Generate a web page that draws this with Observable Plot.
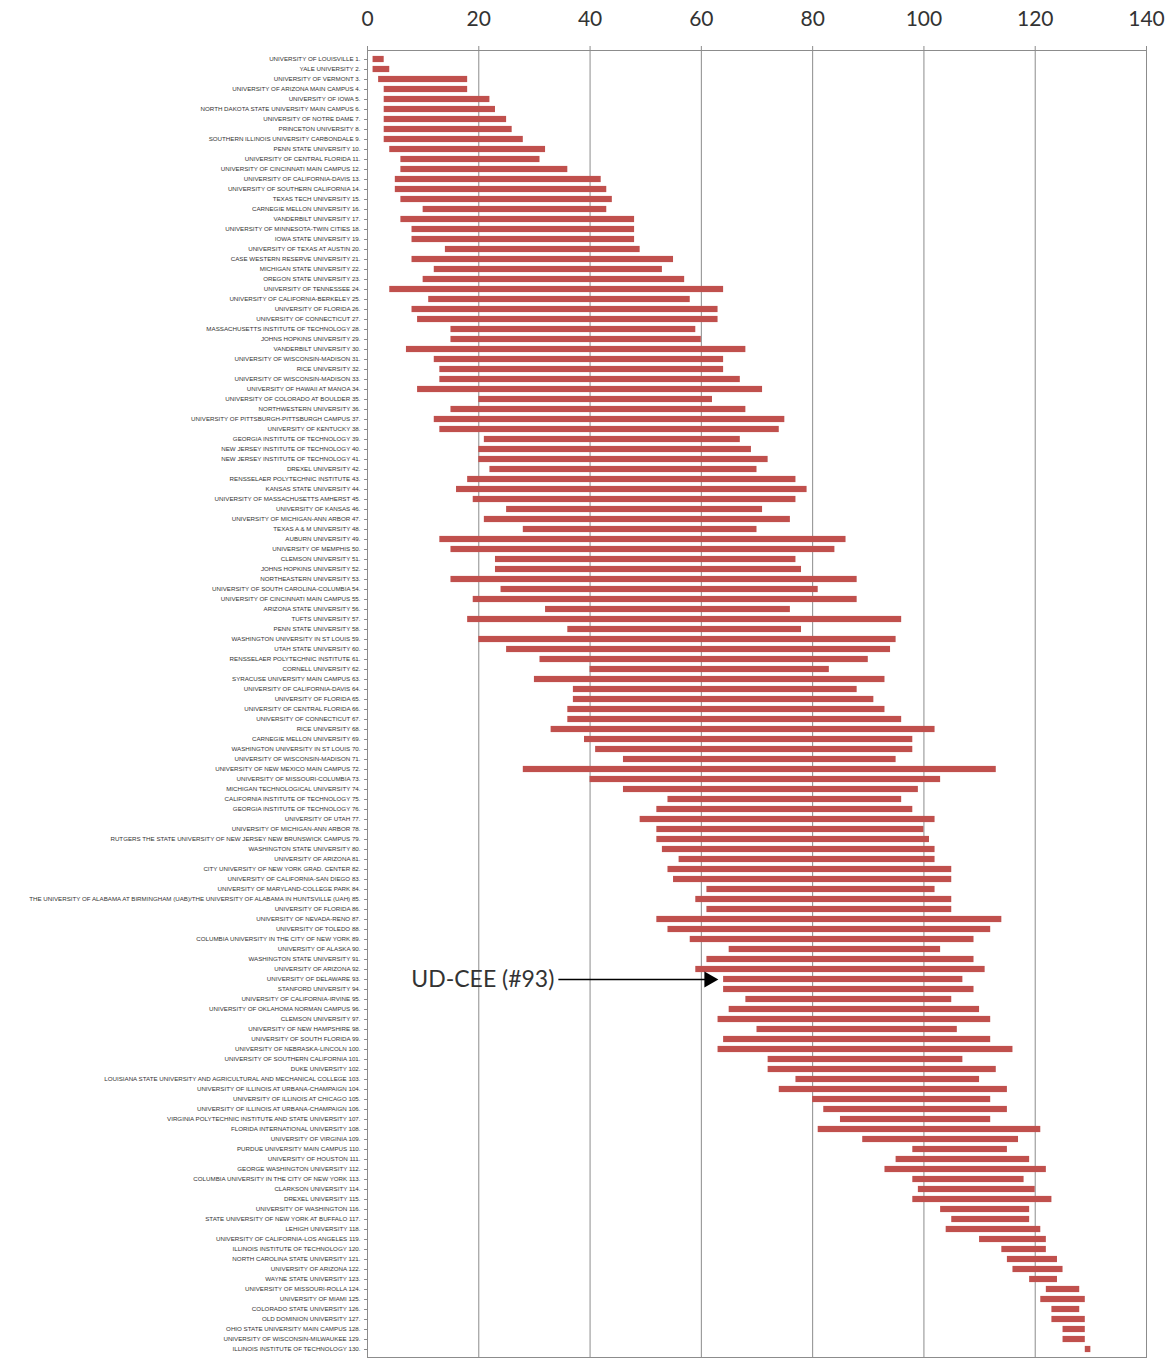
<!DOCTYPE html>
<html><head><meta charset="utf-8">
<script src="https://cdn.jsdelivr.net/npm/d3@7"></script>
<script src="https://cdn.jsdelivr.net/npm/@observablehq/plot@0.6"></script>
<style>body{margin:0;background:#fff}#chart svg{display:block}</style>
</head><body><div id="chart"></div>
<script>
const names = [
"UNIVERSITY OF LOUISVILLE 1.","YALE UNIVERSITY 2.","UNIVERSITY OF VERMONT 3.","UNIVERSITY OF ARIZONA MAIN CAMPUS 4.","UNIVERSITY OF IOWA 5.",
"NORTH DAKOTA STATE UNIVERSITY MAIN CAMPUS 6.","UNIVERSITY OF NOTRE DAME 7.","PRINCETON UNIVERSITY 8.","SOUTHERN ILLINOIS UNIVERSITY CARBONDALE 9.","PENN STATE UNIVERSITY 10.",
"UNIVERSITY OF CENTRAL FLORIDA 11.","UNIVERSITY OF CINCINNATI MAIN CAMPUS 12.","UNIVERSITY OF CALIFORNIA-DAVIS 13.","UNIVERSITY OF SOUTHERN CALIFORNIA 14.","TEXAS TECH UNIVERSITY 15.",
"CARNEGIE MELLON UNIVERSITY 16.","VANDERBILT UNIVERSITY 17.","UNIVERSITY OF MINNESOTA-TWIN CITIES 18.","IOWA STATE UNIVERSITY 19.","UNIVERSITY OF TEXAS AT AUSTIN 20.",
"CASE WESTERN RESERVE UNIVERSITY 21.","MICHIGAN STATE UNIVERSITY 22.","OREGON STATE UNIVERSITY 23.","UNIVERSITY OF TENNESSEE 24.","UNIVERSITY OF CALIFORNIA-BERKELEY 25.",
"UNIVERSITY OF FLORIDA 26.","UNIVERSITY OF CONNECTICUT 27.","MASSACHUSETTS INSTITUTE OF TECHNOLOGY 28.","JOHNS HOPKINS UNIVERSITY 29.","VANDERBILT UNIVERSITY 30.",
"UNIVERSITY OF WISCONSIN-MADISON 31.","RICE UNIVERSITY 32.","UNIVERSITY OF WISCONSIN-MADISON 33.","UNIVERSITY OF HAWAII AT MANOA 34.","UNIVERSITY OF COLORADO AT BOULDER 35.",
"NORTHWESTERN UNIVERSITY 36.","UNIVERSITY OF PITTSBURGH-PITTSBURGH CAMPUS 37.","UNIVERSITY OF KENTUCKY 38.","GEORGIA INSTITUTE OF TECHNOLOGY 39.","NEW JERSEY INSTITUTE OF TECHNOLOGY 40.",
"NEW JERSEY INSTITUTE OF TECHNOLOGY 41.","DREXEL UNIVERSITY 42.","RENSSELAER POLYTECHNIC INSTITUTE 43.","KANSAS STATE UNIVERSITY 44.","UNIVERSITY OF MASSACHUSETTS AMHERST 45.",
"UNIVERSITY OF KANSAS 46.","UNIVERSITY OF MICHIGAN-ANN ARBOR 47.","TEXAS A & M UNIVERSITY 48.","AUBURN UNIVERSITY 49.","UNIVERSITY OF MEMPHIS 50.",
"CLEMSON UNIVERSITY 51.","JOHNS HOPKINS UNIVERSITY 52.","NORTHEASTERN UNIVERSITY 53.","UNIVERSITY OF SOUTH CAROLINA-COLUMBIA 54.","UNIVERSITY OF CINCINNATI MAIN CAMPUS 55.",
"ARIZONA STATE UNIVERSITY 56.","TUFTS UNIVERSITY 57.","PENN STATE UNIVERSITY 58.","WASHINGTON UNIVERSITY IN ST LOUIS 59.","UTAH STATE UNIVERSITY 60.",
"RENSSELAER POLYTECHNIC INSTITUTE 61.","CORNELL UNIVERSITY 62.","SYRACUSE UNIVERSITY MAIN CAMPUS 63.","UNIVERSITY OF CALIFORNIA-DAVIS 64.","UNIVERSITY OF FLORIDA 65.",
"UNIVERSITY OF CENTRAL FLORIDA 66.","UNIVERSITY OF CONNECTICUT 67.","RICE UNIVERSITY 68.","CARNEGIE MELLON UNIVERSITY 69.","WASHINGTON UNIVERSITY IN ST LOUIS 70.",
"UNIVERSITY OF WISCONSIN-MADISON 71.","UNIVERSITY OF NEW MEXICO MAIN CAMPUS 72.","UNIVERSITY OF MISSOURI-COLUMBIA 73.","MICHIGAN TECHNOLOGICAL UNIVERSITY 74.","CALIFORNIA INSTITUTE OF TECHNOLOGY 75.",
"GEORGIA INSTITUTE OF TECHNOLOGY 76.","UNIVERSITY OF UTAH 77.","UNIVERSITY OF MICHIGAN-ANN ARBOR 78.","RUTGERS THE STATE UNIVERSITY OF NEW JERSEY NEW BRUNSWICK CAMPUS 79.","WASHINGTON STATE UNIVERSITY 80.",
"UNIVERSITY OF ARIZONA 81.","CITY UNIVERSITY OF NEW YORK GRAD. CENTER 82.","UNIVERSITY OF CALIFORNIA-SAN DIEGO 83.","UNIVERSITY OF MARYLAND-COLLEGE PARK 84.","THE UNIVERSITY OF ALABAMA AT BIRMINGHAM (UAB)/THE UNIVERSITY OF ALABAMA IN HUNTSVILLE (UAH) 85.",
"UNIVERSITY OF FLORIDA 86.","UNIVERSITY OF NEVADA-RENO 87.","UNIVERSITY OF TOLEDO 88.","COLUMBIA UNIVERSITY IN THE CITY OF NEW YORK 89.","UNIVERSITY OF ALASKA 90.",
"WASHINGTON STATE UNIVERSITY 91.","UNIVERSITY OF ARIZONA 92.","UNIVERSITY OF DELAWARE 93.","STANFORD UNIVERSITY 94.","UNIVERSITY OF CALIFORNIA-IRVINE 95.",
"UNIVERSITY OF OKLAHOMA NORMAN CAMPUS 96.","CLEMSON UNIVERSITY 97.","UNIVERSITY OF NEW HAMPSHIRE 98.","UNIVERSITY OF SOUTH FLORIDA 99.","UNIVERSITY OF NEBRASKA-LINCOLN 100.",
"UNIVERSITY OF SOUTHERN CALIFORNIA 101.","DUKE UNIVERSITY 102.","LOUISIANA STATE UNIVERSITY AND AGRICULTURAL AND MECHANICAL COLLEGE 103.","UNIVERSITY OF ILLINOIS AT URBANA-CHAMPAIGN 104.","UNIVERSITY OF ILLINOIS AT CHICAGO 105.",
"UNIVERSITY OF ILLINOIS AT URBANA-CHAMPAIGN 106.","VIRGINIA POLYTECHNIC INSTITUTE AND STATE UNIVERSITY 107.","FLORIDA INTERNATIONAL UNIVERSITY 108.","UNIVERSITY OF VIRGINIA 109.","PURDUE UNIVERSITY MAIN CAMPUS 110.",
"UNIVERSITY OF HOUSTON 111.","GEORGE WASHINGTON UNIVERSITY 112.","COLUMBIA UNIVERSITY IN THE CITY OF NEW YORK 113.","CLARKSON UNIVERSITY 114.","DREXEL UNIVERSITY 115.",
"UNIVERSITY OF WASHINGTON 116.","STATE UNIVERSITY OF NEW YORK AT BUFFALO 117.","LEHIGH UNIVERSITY 118.","UNIVERSITY OF CALIFORNIA-LOS ANGELES 119.","ILLINOIS INSTITUTE OF TECHNOLOGY 120.",
"NORTH CAROLINA STATE UNIVERSITY 121.","UNIVERSITY OF ARIZONA 122.","WAYNE STATE UNIVERSITY 123.","UNIVERSITY OF MISSOURI-ROLLA 124.","UNIVERSITY OF MIAMI 125.",
"COLORADO STATE UNIVERSITY 126.","OLD DOMINION UNIVERSITY 127.","OHIO STATE UNIVERSITY MAIN CAMPUS 128.","UNIVERSITY OF WISCONSIN-MILWAUKEE 129.","ILLINOIS INSTITUTE OF TECHNOLOGY 130."
];
const lows = [
1,1,2,3,3,3,3,3,3,4, 6,6,5,5,6,10,6,8,8,14, 8,12,10,4,11,8,9,15,15,7,
12,13,13,9,20,15,12,13,21,20, 20,22,18,16,19,25,21,28,13,15, 23,23,15,24,19,32,18,36,20,25,
31,40,30,37,37,36,36,33,39,41, 46,28,40,46,54,52,49,52,52,53, 56,54,55,61,59,61,52,54,58,65,
61,59,64,64,68,65,63,70,64,63, 72,72,77,74,80,82,85,81,89,98, 95,93,98,99,98,103,105,104,110,114,
115,116,119,122,121,123,123,125,125,129
];
const highs = [
3,4,18,18,22,23,25,26,28,32, 31,36,42,43,44,43,48,48,48,49, 55,53,57,64,58,63,63,59,60,68,
64,64,67,71,62,68,75,74,67,69, 72,70,77,79,77,71,76,70,86,84, 77,78,88,81,88,76,96,78,95,94,
90,83,93,88,91,93,96,102,98,98, 95,113,103,99,96,98,102,100,101,102, 102,105,105,102,105,105,114,112,109,103,
109,111,107,109,105,110,112,106,112,116, 107,113,110,115,112,115,112,121,117,115, 119,122,118,120,123,119,119,121,122,122,
124,125,124,128,129,128,129,129,129,130
];
const xTicks = [0, 20, 40, 60, 80, 100, 120, 140];
const annotationText = "UD-CEE (#93)";
const annotationRow = 93;
const annotationTail = 35.2;
const annotationHead = 63;

const rows = names.map((name, i) => ({name, lo: lows[i], hi: highs[i]}));
const ann = [{name: names[annotationRow - 1], text: annotationText, tail: annotationTail, head: annotationHead}];

const chart = Plot.plot({
  width: 1174,
  height: 1359,
  marginLeft: 367,
  marginRight: 28,
  marginTop: 50,
  marginBottom: 2,
  style: {fontFamily: "'Liberation Sans', Arial, sans-serif", background: "#fff"},
  x: {domain: [0, 140], axis: null},
  y: {domain: names, padding: 0, axis: null},
  marks: [
    Plot.gridX(xTicks, {stroke: "#8c8c8c", strokeOpacity: 1, strokeWidth: 1}),
    Plot.barX(rows, {y: "name", x1: "lo", x2: "hi", fill: "#c0504d", insetTop: 1.9, insetBottom: 1.9}),
    Plot.frame({stroke: "#8c8c8c"}),
    Plot.axisX({anchor: "top", ticks: xTicks, tickSize: 5, tickPadding: 20, stroke: "#8c8c8c", fontSize: 21, fill: "#333", fontFamily: "Lato, 'Open Sans', sans-serif"}),
    Plot.axisY({anchor: "left", ticks: names, label: null, tickSize: 3, tickPadding: 4, stroke: "#8c8c8c", fontSize: 6.2, fill: "#333"}),
    Plot.link(ann, {x1: "tail", x2: "head", y1: "name", y2: "name", stroke: "#000", strokeWidth: 1.5, dx: -5}),
    Plot.dot(ann, {x: "head", y: "name", symbol: "triangle", rotate: 90, r: 6, fill: "#000", stroke: "none", dx: -9}),
    Plot.text(ann, {x: "tail", y: "name", text: "text", textAnchor: "end", dx: -9, fontSize: 23, fill: "#333", fontFamily: "Lato, 'Open Sans', sans-serif"})
  ]
});
document.getElementById("chart").appendChild(chart);
</script>
</body></html>
